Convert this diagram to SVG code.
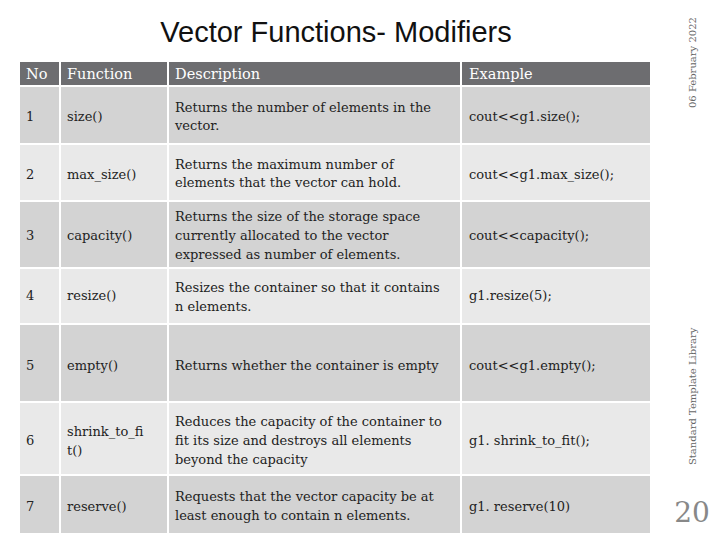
<svg xmlns="http://www.w3.org/2000/svg" width="720" height="540" viewBox="0 0 720 540">
<style>
.h{fill:#6d6d70}.o{fill:#d3d3d3}.e{fill:#e9e9e9}
text{font-family:"DejaVu Serif","Liberation Serif",serif;font-size:13px;fill:#222}
.ht{fill:#fff;font-size:14.5px}
.side{font-size:10px;fill:#666}
</style>
<rect width="720" height="540" fill="#fff"/>
<text x="336" y="42" text-anchor="middle" style="font-family:'Liberation Sans',Arial,sans-serif;font-size:29px;fill:#111">Vector Functions- Modifiers</text>
<g id="table">
<rect class="h" x="20" y="62" width="630" height="23"/>
<rect class="o" x="20" y="87" width="630" height="56"/>
<rect class="e" x="20" y="145" width="630" height="55"/>
<rect class="o" x="20" y="202" width="630" height="65"/>
<rect class="e" x="20" y="269" width="630" height="54"/>
<rect class="o" x="20" y="325" width="630" height="76"/>
<rect class="e" x="20" y="403" width="630" height="71"/>
<rect class="o" x="20" y="476" width="630" height="57"/>
<g stroke="#fff" stroke-width="2"><line x1="60" y1="62" x2="60" y2="533"/><line x1="168" y1="62" x2="168" y2="533"/><line x1="461" y1="62" x2="461" y2="533"/></g>
</g>
<g id="header"><text class="ht" x="26" y="79">No</text><text class="ht" x="67" y="79">Function</text><text class="ht" x="175" y="79">Description</text><text class="ht" x="469" y="79">Example</text></g>
<g id="r1"><text x="26" y="121">1</text><text x="67" y="121">size()</text><text x="175" y="112">Returns the number of elements in the</text><text x="175" y="130">vector.</text><text x="469" y="121">cout&lt;&lt;g1.size();</text></g>
<g id="r2"><text x="26" y="179">2</text><text x="67" y="179">max_size()</text><text x="175" y="169">Returns the maximum number of</text><text x="175" y="187">elements that the vector can hold.</text><text x="469" y="179">cout&lt;&lt;g1.max_size();</text></g>
<g id="r3"><text x="26" y="240">3</text><text x="67" y="240">capacity()</text><text x="175" y="221">Returns the size of the storage space</text><text x="175" y="240">currently allocated to the vector</text><text x="175" y="259">expressed as number of elements.</text><text x="469" y="240">cout&lt;&lt;capacity();</text></g>
<g id="r4"><text x="26" y="300">4</text><text x="67" y="300">resize()</text><text x="175" y="292">Resizes the container so that it contains</text><text x="175" y="311">n elements.</text><text x="469" y="300">g1.resize(5);</text></g>
<g id="r5"><text x="26" y="370">5</text><text x="67" y="370">empty()</text><text x="175" y="370">Returns whether the container is empty</text><text x="469" y="370">cout&lt;&lt;g1.empty();</text></g>
<g id="r6"><text x="26" y="445">6</text><text x="67" y="436">shrink_to_fi</text><text x="67" y="455">t()</text><text x="175" y="426">Reduces the capacity of the container to</text><text x="175" y="445">fit its size and destroys all elements</text><text x="175" y="464">beyond the capacity</text><text x="469" y="445">g1. shrink_to_fit();</text></g>
<g id="r7"><text x="26" y="511">7</text><text x="67" y="511">reserve()</text><text x="175" y="501">Requests that the vector capacity be at</text><text x="175" y="520">least enough to contain n elements.</text><text x="469" y="511">g1. reserve(10)</text></g>
<g id="side">
<text class="side" transform="translate(696,108) rotate(-90)">06 February 2022</text>
<text class="side" transform="translate(696,465) rotate(-90)">Standard Template Library</text>
<text x="692" y="522" text-anchor="middle" style="font-size:28px;fill:#888">20</text>
</g>
</svg>
